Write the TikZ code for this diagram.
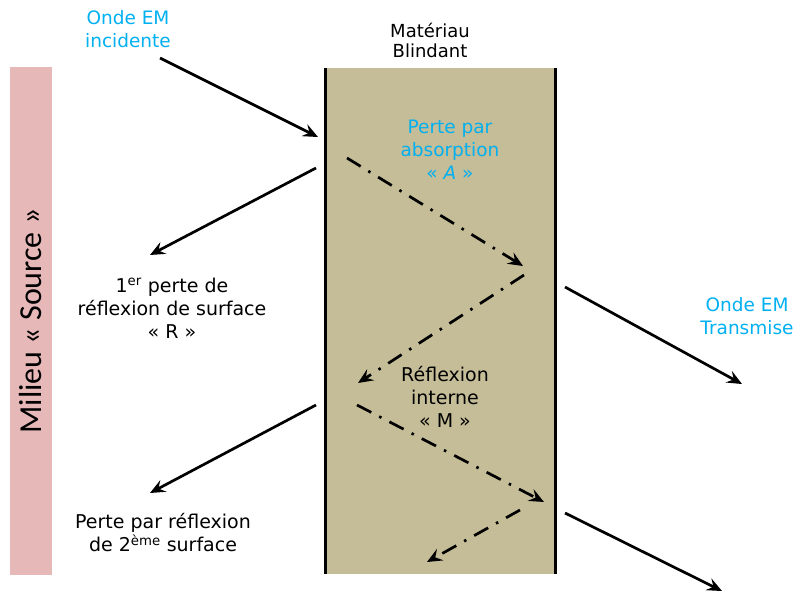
\documentclass[tikz,border=0pt]{standalone}
\usepackage{fontspec}
\setmainfont{DejaVu Sans}
\newfontfamily\calib{Carlito}
\usetikzlibrary{arrows.meta}
\definecolor{cyanlbl}{HTML}{00B0F0}
\definecolor{tanfill}{HTML}{C4BD97}
\definecolor{pinkfill}{HTML}{E6B9B8}
\begin{document}
\begin{tikzpicture}[x=1pt,y=-1pt,
 lbl/.style={align=center, font=\fontsize{19}{23}\selectfont, inner sep=0pt},
 bluelbl/.style={lbl, font=\fontsize{18.5}{23}\selectfont, text=cyanlbl},
 wave/.style={line width=2.7pt, -{Stealth[length=15pt,width=13pt,inset=5.5pt]}},
 innerwave/.style={wave, dash pattern=on 16pt off 9pt on 2.5pt off 9pt},
 edge/.style={line width=3pt},
]
\useasboundingbox (0,0) rectangle (793,592);
% source medium
\node (source) [rotate=90, fill=pinkfill, minimum width=508pt, minimum height=42pt, inner sep=0pt,
  font=\calib\fontsize{32}{36}\selectfont] at (31,321) {Milieu « Source »};
% shielding material
\node (mat) [fill=tanfill, minimum width=229pt, minimum height=506pt, inner sep=0pt] at (440.5,321) {};
\draw[edge] (mat.north west) -- (mat.south west);
\draw[edge] (mat.north east) -- (mat.south east);
% labels
\node (matlbl) [lbl, font=\fontsize{18}{20}\selectfont] at (430,40) {Matériau\\Blindant};
\node (inc) [bluelbl] at (128,29.5) {Onde EM\\incidente};
\node (abs) [bluelbl] at (450,150) {Perte par\\absorption\\« \textit{A} »};
\node (r1) [lbl] at (172,308) {1\textsuperscript{er} perte de\\réflexion de surface\\« R »};
\node (rint) [lbl] at (445,397) {Réflexion\\interne\\« M »};
\node (r2) [lbl] at (163,533) {Perte par réflexion\\de 2\textsuperscript{ème} surface};
\node (trans) [bluelbl] at (747,316) {Onde EM\\Transmise};
% arrow end points
\coordinate (a1s) at (160,58);  \coordinate (a1e) at (318,137);
\coordinate (a2s) at (316,168); \coordinate (a2e) at (150,255);
\coordinate (a3s) at (316,405); \coordinate (a3e) at (150,493);
\coordinate (t1s) at (565,287); \coordinate (t1e) at (742,384);
\coordinate (t2s) at (565,513); \coordinate (t2e) at (722,591);
\coordinate (d1s) at (347,158); \coordinate (d1e) at (523,266);
\coordinate (d2s) at (524,275); \coordinate (d2e) at (358,383);
\coordinate (d3s) at (357,405); \coordinate (d3e) at (544,502);
\coordinate (d4s) at (520,510); \coordinate (d4e) at (427,562);
% solid arrows
\draw[wave] (a1s) -- (a1e);
\draw[wave] (a2s) -- (a2e);
\draw[wave] (a3s) -- (a3e);
\draw[wave] (t1s) -- (t1e);
\draw[wave] (t2s) -- (t2e);
% internal dash-dot arrows
\draw[innerwave] (d1s) -- (d1e);
\draw[innerwave] (d2s) -- (d2e);
\draw[innerwave] (d3s) -- (d3e);
\draw[innerwave] (d4s) -- (d4e);
\end{tikzpicture}
\end{document}
